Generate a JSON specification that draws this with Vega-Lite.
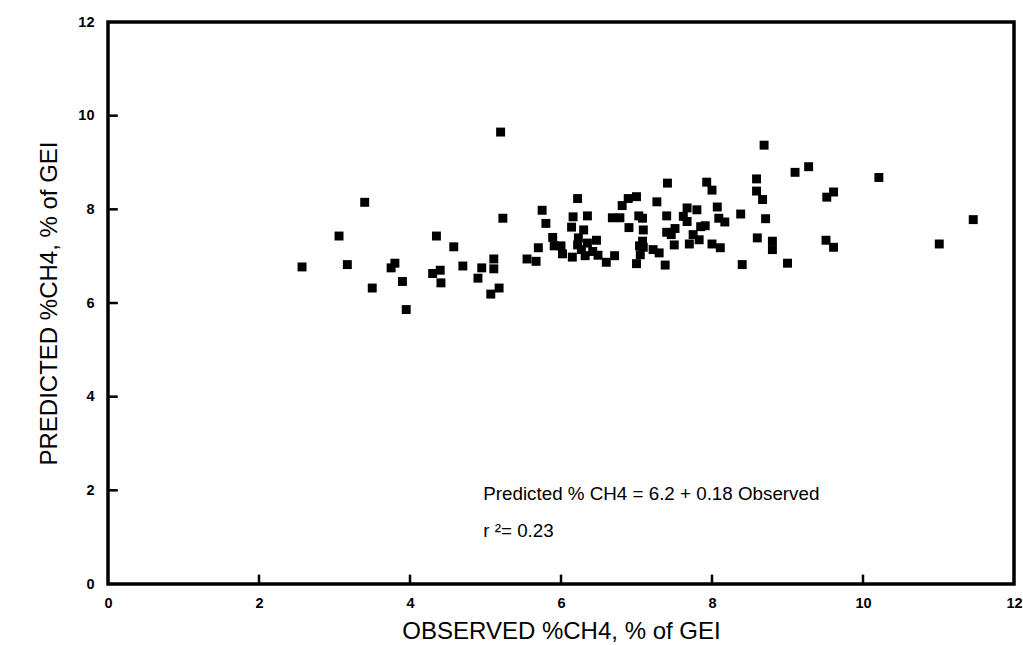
{
  "$schema": "https://vega.github.io/schema/vega-lite/v6.json",
  "width": 906,
  "height": 562,
  "autosize": {"type": "none"},
  "padding": {"left": 108, "top": 22, "right": 9, "bottom": 61},
  "background": "white",
  "config": {
    "view": {"stroke": "black", "strokeWidth": 3.5},
    "font": "Liberation Sans"
  },
  "datasets": {
    "pts": [
      {"obs": 5.2, "pred": 9.65}, {"obs": 3.40, "pred": 8.15}, {"obs": 3.06, "pred": 7.43}, {"obs": 5.23, "pred": 7.81},
      {"obs": 2.57, "pred": 6.77}, {"obs": 3.17, "pred": 6.82}, {"obs": 3.50, "pred": 6.32}, {"obs": 3.80, "pred": 6.85},
      {"obs": 3.75, "pred": 6.75}, {"obs": 3.90, "pred": 6.46}, {"obs": 3.95, "pred": 5.86}, {"obs": 4.35, "pred": 7.43},
      {"obs": 4.58, "pred": 7.20}, {"obs": 4.40, "pred": 6.70}, {"obs": 4.30, "pred": 6.63}, {"obs": 4.41, "pred": 6.43},
      {"obs": 4.70, "pred": 6.79}, {"obs": 4.95, "pred": 6.75}, {"obs": 4.90, "pred": 6.53}, {"obs": 5.11, "pred": 6.94},
      {"obs": 5.11, "pred": 6.73}, {"obs": 5.18, "pred": 6.32}, {"obs": 5.07, "pred": 6.19}, {"obs": 5.55, "pred": 6.94},
      {"obs": 5.67, "pred": 6.89}, {"obs": 5.75, "pred": 7.98}, {"obs": 5.80, "pred": 7.70}, {"obs": 5.70, "pred": 7.18},
      {"obs": 5.89, "pred": 7.40}, {"obs": 5.91, "pred": 7.22}, {"obs": 6.00, "pred": 7.22}, {"obs": 6.02, "pred": 7.05},
      {"obs": 6.15, "pred": 6.98}, {"obs": 6.22, "pred": 8.23}, {"obs": 6.16, "pred": 7.84}, {"obs": 6.14, "pred": 7.62},
      {"obs": 6.35, "pred": 7.86}, {"obs": 6.30, "pred": 7.56}, {"obs": 6.23, "pred": 7.39}, {"obs": 6.22, "pred": 7.24},
      {"obs": 6.27, "pred": 7.14}, {"obs": 6.32, "pred": 7.01}, {"obs": 6.35, "pred": 7.28}, {"obs": 6.47, "pred": 7.34},
      {"obs": 6.42, "pred": 7.10}, {"obs": 6.49, "pred": 7.02}, {"obs": 6.60, "pred": 6.87}, {"obs": 6.71, "pred": 7.01},
      {"obs": 6.68, "pred": 7.82}, {"obs": 6.78, "pred": 7.82}, {"obs": 6.81, "pred": 8.08}, {"obs": 6.89, "pred": 8.23},
      {"obs": 7.00, "pred": 8.27}, {"obs": 6.90, "pred": 7.61}, {"obs": 7.03, "pred": 7.86}, {"obs": 7.08, "pred": 7.81},
      {"obs": 7.09, "pred": 7.56}, {"obs": 7.08, "pred": 7.32}, {"obs": 7.04, "pred": 7.22}, {"obs": 7.09, "pred": 7.19},
      {"obs": 7.05, "pred": 7.03}, {"obs": 7.00, "pred": 6.84}, {"obs": 7.22, "pred": 7.14}, {"obs": 7.30, "pred": 7.07},
      {"obs": 7.27, "pred": 8.16}, {"obs": 7.38, "pred": 6.81}, {"obs": 7.41, "pred": 8.56}, {"obs": 7.40, "pred": 7.86},
      {"obs": 7.40, "pred": 7.51}, {"obs": 7.46, "pred": 7.46}, {"obs": 7.51, "pred": 7.59}, {"obs": 7.50, "pred": 7.24},
      {"obs": 7.62, "pred": 7.85}, {"obs": 7.67, "pred": 8.03}, {"obs": 7.67, "pred": 7.74}, {"obs": 7.80, "pred": 7.99},
      {"obs": 7.70, "pred": 7.26}, {"obs": 7.75, "pred": 7.46}, {"obs": 7.83, "pred": 7.35}, {"obs": 7.85, "pred": 7.63},
      {"obs": 7.91, "pred": 7.65}, {"obs": 7.93, "pred": 8.58}, {"obs": 8.00, "pred": 8.41}, {"obs": 8.07, "pred": 8.05},
      {"obs": 8.09, "pred": 7.81}, {"obs": 8.17, "pred": 7.73}, {"obs": 8.00, "pred": 7.26}, {"obs": 8.11, "pred": 7.18},
      {"obs": 8.38, "pred": 7.90}, {"obs": 8.40, "pred": 6.82}, {"obs": 8.59, "pred": 8.65}, {"obs": 8.59, "pred": 8.39},
      {"obs": 8.67, "pred": 8.21}, {"obs": 8.69, "pred": 9.37}, {"obs": 8.71, "pred": 7.80}, {"obs": 8.60, "pred": 7.39},
      {"obs": 8.80, "pred": 7.32}, {"obs": 8.80, "pred": 7.14}, {"obs": 9.00, "pred": 6.85}, {"obs": 9.10, "pred": 8.79},
      {"obs": 9.28, "pred": 8.91}, {"obs": 9.61, "pred": 8.37}, {"obs": 9.52, "pred": 8.26}, {"obs": 9.51, "pred": 7.34},
      {"obs": 9.61, "pred": 7.19}, {"obs": 10.21, "pred": 8.68}, {"obs": 11.01, "pred": 7.26}, {"obs": 11.46, "pred": 7.78}
    ],
    "notes": [
      {"obs": 4.97, "pred": 1.93, "label": "Predicted % CH4 = 6.2 + 0.18 Observed"},
      {"obs": 4.97, "pred": 1.14, "label": "r  ²= 0.23"}
    ],
    "ticks": [{"v": 2}, {"v": 4}, {"v": 6}, {"v": 8}, {"v": 10}]
  },
  "layer": [
    {
      "data": {"name": "pts"},
      "mark": {"type": "point", "shape": "square", "filled": true, "color": "black", "opacity": 1, "size": 80},
      "encoding": {
        "x": {
          "field": "obs", "type": "quantitative",
          "scale": {"domain": [0, 12], "nice": false, "zero": false},
          "axis": {
            "title": "OBSERVED %CH4, % of GEI", "values": [0, 2, 4, 6, 8, 10, 12], "format": "d",
            "grid": false, "domain": false, "ticks": false,
            "labelFont": "Liberation Sans", "labelFontWeight": "bold", "labelFontSize": 14.5, "labelColor": "black",
            "labelPadding": 12, "labelFlush": false,
            "titleFont": "Liberation Sans", "titleFontWeight": "normal", "titleFontSize": 24, "titleColor": "black",
            "titlePadding": 10
          }
        },
        "y": {
          "field": "pred", "type": "quantitative",
          "scale": {"domain": [0, 12], "nice": false, "zero": false},
          "axis": {
            "title": "PREDICTED %CH4, % of GEI", "values": [0, 2, 4, 6, 8, 10, 12], "format": "d",
            "grid": false, "domain": false, "ticks": false,
            "labelFont": "Liberation Sans", "labelFontWeight": "bold", "labelFontSize": 14.5, "labelColor": "black",
            "labelPadding": 14, "labelFlush": false,
            "titleFont": "Liberation Sans", "titleFontWeight": "normal", "titleFontSize": 24, "titleColor": "black",
            "titlePadding": 16
          }
        }
      }
    },
    {
      "data": {"name": "ticks"},
      "mark": {"type": "rule", "color": "black", "strokeWidth": 2.5},
      "encoding": {
        "x": {"field": "v", "type": "quantitative"},
        "y": {"datum": 0},
        "y2": {"datum": 0.2}
      }
    },
    {
      "data": {"name": "ticks"},
      "mark": {"type": "rule", "color": "black", "strokeWidth": 2.5},
      "encoding": {
        "y": {"field": "v", "type": "quantitative"},
        "x": {"datum": 0},
        "x2": {"datum": 0.13}
      }
    },
    {
      "data": {"name": "notes"},
      "mark": {"type": "text", "align": "left", "baseline": "middle", "fontSize": 18.8, "font": "Liberation Sans", "color": "black"},
      "encoding": {
        "x": {"field": "obs", "type": "quantitative"},
        "y": {"field": "pred", "type": "quantitative"},
        "text": {"field": "label"}
      }
    }
  ]
}
